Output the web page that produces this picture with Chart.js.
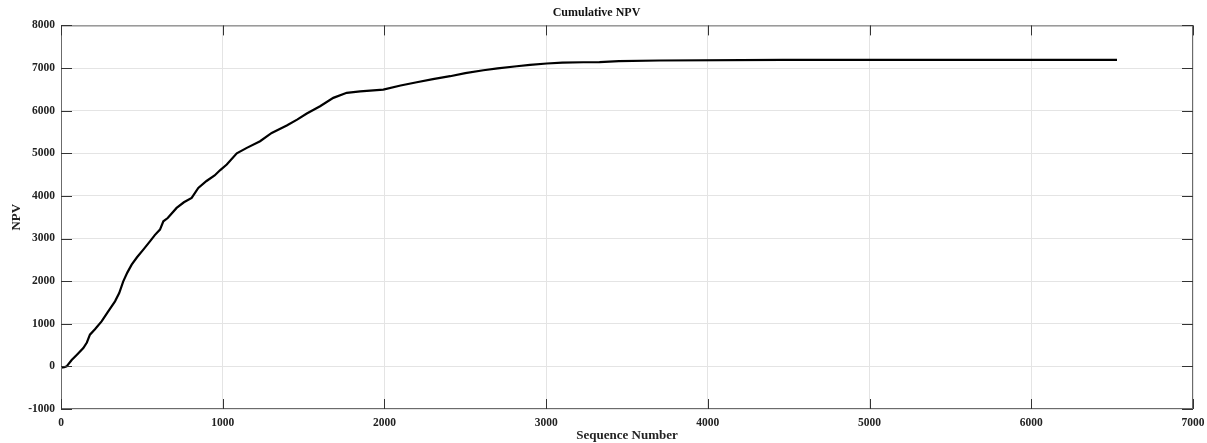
<!DOCTYPE html>
<html lang="en">
<head>
  <meta charset="UTF-8" />
  <title>Cumulative NPV</title>
  <script src="https://cdn.jsdelivr.net/npm/chart.js"></script>
  <style>
    html, body { margin: 0; padding: 0; background: #fff; }
    #wrap { width: 1207px; height: 443px; }
  </style>
</head>
<body>
  <div id="wrap"><canvas id="npvChart"></canvas></div>

  <script>
    // values
    const seqNumbers = [0, 20, 35, 66, 100, 138, 160, 179, 210, 251, 290, 334, 360, 385, 410, 437, 470, 509,
      550, 580, 612, 633, 660, 715, 760, 808, 849, 900, 950, 983, 1025, 1087, 1149, 1231, 1303, 1396,
      1460, 1520, 1602, 1684, 1767, 1850, 1993, 2100, 2200, 2300, 2406, 2500, 2612, 2700, 2818, 2900,
      3004, 3100, 3230, 3330, 3450, 3700, 4465, 6530];
    const npvValues = [-30, -20, 0, 150, 280, 430, 560, 744, 870, 1056, 1280, 1526, 1720, 1995, 2200, 2387, 2560, 2740,
      2934, 3080, 3209, 3404, 3480, 3718, 3850, 3953, 4188, 4350, 4480, 4600, 4735, 5000, 5127, 5282, 5478, 5650,
      5790, 5932, 6103, 6300, 6418, 6450, 6495, 6590, 6667, 6740, 6808, 6880, 6948, 6990, 7042, 7075,
      7106, 7125, 7136, 7140, 7160, 7176, 7192, 7192];
    const xTicks = [0, 1000, 2000, 3000, 4000, 5000, 6000, 7000];
    const yTicks = [-1000, 0, 1000, 2000, 3000, 4000, 5000, 6000, 7000, 8000];

    const serif = "'Liberation Serif', 'Times New Roman', serif";
    const axisColor = '#6b6b6b';

    // MATLAB style box with inward ticks
    const boxTicks = {
      id: 'boxTicks',
      afterDatasetsDraw(chart) {
        const { ctx, chartArea: a, scales } = chart;
        ctx.save();
        ctx.strokeStyle = axisColor;
        ctx.lineWidth = 1;
        ctx.strokeRect(a.left + 0.5, a.top + 0.5, a.right - a.left - 1, a.bottom - a.top - 1);
        ctx.strokeStyle = '#333';
        ctx.beginPath();
        xTicks.forEach(v => {
          const x = Math.round(scales.x.getPixelForValue(v)) + 0.5;
          ctx.moveTo(x, a.bottom); ctx.lineTo(x, a.bottom - 10);
          ctx.moveTo(x, a.top); ctx.lineTo(x, a.top + 10);
        });
        yTicks.forEach(v => {
          const y = Math.round(scales.y.getPixelForValue(v)) + 0.5;
          ctx.moveTo(a.left, y); ctx.lineTo(a.left + 11, y);
          ctx.moveTo(a.right, y); ctx.lineTo(a.right - 11, y);
        });
        ctx.stroke();
        ctx.restore();
      }
    };

    new Chart(document.getElementById('npvChart'), {
      type: 'line',
      data: {
        datasets: [{
          label: 'Cumulative NPV',
          data: seqNumbers.map((s, i) => ({ x: s, y: npvValues[i] })),
          borderColor: '#000',
          borderWidth: 2.2,
          pointRadius: 0,
          tension: 0,
          fill: false
        }]
      },
      options: {
        responsive: true,
        maintainAspectRatio: false,
        animation: false,
        layout: { padding: { left: 0, right: 14, top: 0, bottom: 0 } },
        plugins: {
          legend: { display: false },
          tooltip: { enabled: false },
          title: {
            display: true,
            text: 'Cumulative NPV',
            color: '#111',
            font: { family: serif, size: 12, weight: 'bold', lineHeight: 1.2 },
            padding: { top: 6, bottom: 5 }
          }
        },
        scales: {
          x: {
            type: 'linear',
            min: 0,
            max: 7000,
            afterBuildTicks: s => { s.ticks = xTicks.map(v => ({ value: v })); },
            afterFit: s => { s.height = 34; s.paddingLeft = 0; s.paddingRight = 0; },
            grid: { color: '#e4e4e4', lineWidth: 1, drawTicks: false },
            border: { display: false },
            ticks: {
              color: '#222', padding: 7, maxRotation: 0,
              font: { family: serif, size: 11.5, weight: 'bold' },
              callback: v => String(v)
            },
            title: {
              display: true, text: 'Sequence Number', color: '#222',
              font: { family: serif, size: 13, weight: 'bold' },
              padding: { top: 0, bottom: 0 }
            }
          },
          y: {
            min: -1000,
            max: 8000,
            afterBuildTicks: s => { s.ticks = yTicks.map(v => ({ value: v })); },
            afterFit: s => { s.width = 61; s.paddingTop = 0; s.paddingBottom = 0; },
            grid: { color: '#e4e4e4', lineWidth: 1, drawTicks: false },
            border: { display: false },
            ticks: {
              color: '#222', padding: 6,
              font: { family: serif, size: 11.5, weight: 'bold' },
              callback: v => String(v)
            },
            title: {
              display: true, text: 'NPV', color: '#222',
              font: { family: serif, size: 13, weight: 'bold' },
              padding: { top: 9, bottom: 0 }
            }
          }
        }
      },
      plugins: [boxTicks]
    });
  </script>
</body>
</html>
